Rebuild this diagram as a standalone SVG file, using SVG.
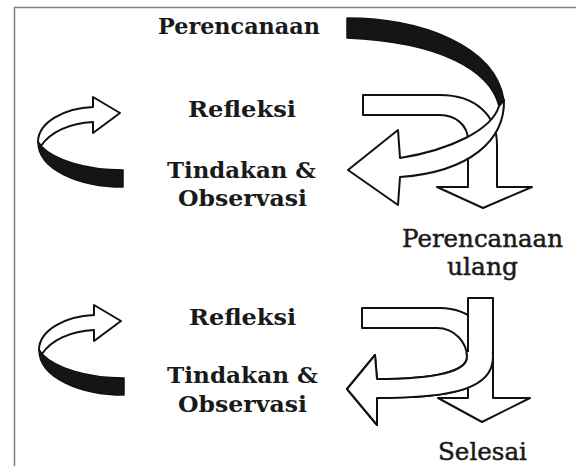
<svg xmlns="http://www.w3.org/2000/svg" width="576" height="466" viewBox="0 0 576 466">
<style>
.ol{fill:#fff;stroke:#111;stroke-width:2;stroke-linejoin:round}
.blk{fill:#151515;stroke:#111;stroke-width:1.5;stroke-linejoin:round}
.b{font-family:"DejaVu Serif","Liberation Serif",serif;font-weight:bold;font-size:23px;fill:#1a1a1a}
.r{font-family:"DejaVu Serif","Liberation Serif",serif;font-size:25px;fill:#1a1a1a;stroke:#1a1a1a;stroke-width:0.5}
.frame{stroke:#808080;stroke-width:1.5;fill:none}
</style>
<defs>
<clipPath id="lowU"><rect x="330" y="352" width="200" height="100"/></clipPath>
<g id="smallArrow">
<path class="ol" d="M38 142 C38 122 65 108 93 107 L93 97 L120 113 L93 133 L93 122 C70 123 50 132 41 146 Z"/>
<path class="blk" d="M38 142 C38 170 80 187 123 187 L123 170 C85 170 55 160 41 146 Z"/>
</g>
</defs>
<rect width="576" height="466" fill="#fff"/>
<path class="frame" d="M14.5 466 V7.5 H576"/>

<g id="connectors">
<use href="#smallArrow"/>
<path class="ol" d="M363 95 L440 95 C475 95 497 115 497 145 L497 187 L532 187 L483 208 L437 187 L468 187 L468 140 C468 125 455 115 440 115 L363 115 Z"/>
<path class="blk" d="M347 18 C420 18 495 45 504 100 L499 106 C490 70 440 42 347 38 Z"/>
<path class="ol" d="M504 100 C505 140 470 172 400 177 L398 205 L348 170 L398 130 L400 158 C450 150 492 130 499 106 Z"/>
<use href="#smallArrow" transform="translate(1 208)"/>
<path class="ol" d="M362 308 L440 308 C470 308 493 330 493 357 C493 388 455 398 377 398 L377 425 L347 389 L375 355 L377 379 C440 379 467 370 467 357 C467 343 455 328 437 328 L362 328 Z"/>
<path class="ol" d="M468 298 L493 298 L493 398 L530 398 L482 422 L438 398 L468 398 Z"/>
<path class="ol" clip-path="url(#lowU)" d="M362 308 L440 308 C470 308 493 330 493 357 C493 388 455 398 377 398 L377 425 L347 389 L375 355 L377 379 C440 379 467 370 467 357 C467 343 455 328 437 328 L362 328 Z"/>
</g>

<g id="perencanaan"><text class="b" x="158" y="34" textLength="162" lengthAdjust="spacingAndGlyphs">Perencanaan</text></g>
<g id="refleksi1"><text class="b" x="188" y="117" textLength="108" lengthAdjust="spacingAndGlyphs">Refleksi</text></g>
<g id="tindakan1"><text class="b" x="167" y="178" textLength="149" lengthAdjust="spacingAndGlyphs">Tindakan &amp;</text>
<text class="b" x="178" y="206" textLength="129" lengthAdjust="spacingAndGlyphs">Observasi</text></g>
<g id="perencanaan-ulang"><text class="r" x="402" y="247" textLength="161" lengthAdjust="spacingAndGlyphs">Perencanaan</text>
<text class="r" x="447" y="275" textLength="71" lengthAdjust="spacingAndGlyphs">ulang</text></g>
<g id="refleksi2"><text class="b" x="189" y="325" textLength="107" lengthAdjust="spacingAndGlyphs">Refleksi</text></g>
<g id="tindakan2"><text class="b" x="167" y="383" textLength="151" lengthAdjust="spacingAndGlyphs">Tindakan &amp;</text>
<text class="b" x="178" y="412" textLength="129" lengthAdjust="spacingAndGlyphs">Observasi</text></g>
<g id="selesai"><text class="r" x="438" y="460" textLength="89" lengthAdjust="spacingAndGlyphs">Selesai</text></g>
</svg>
